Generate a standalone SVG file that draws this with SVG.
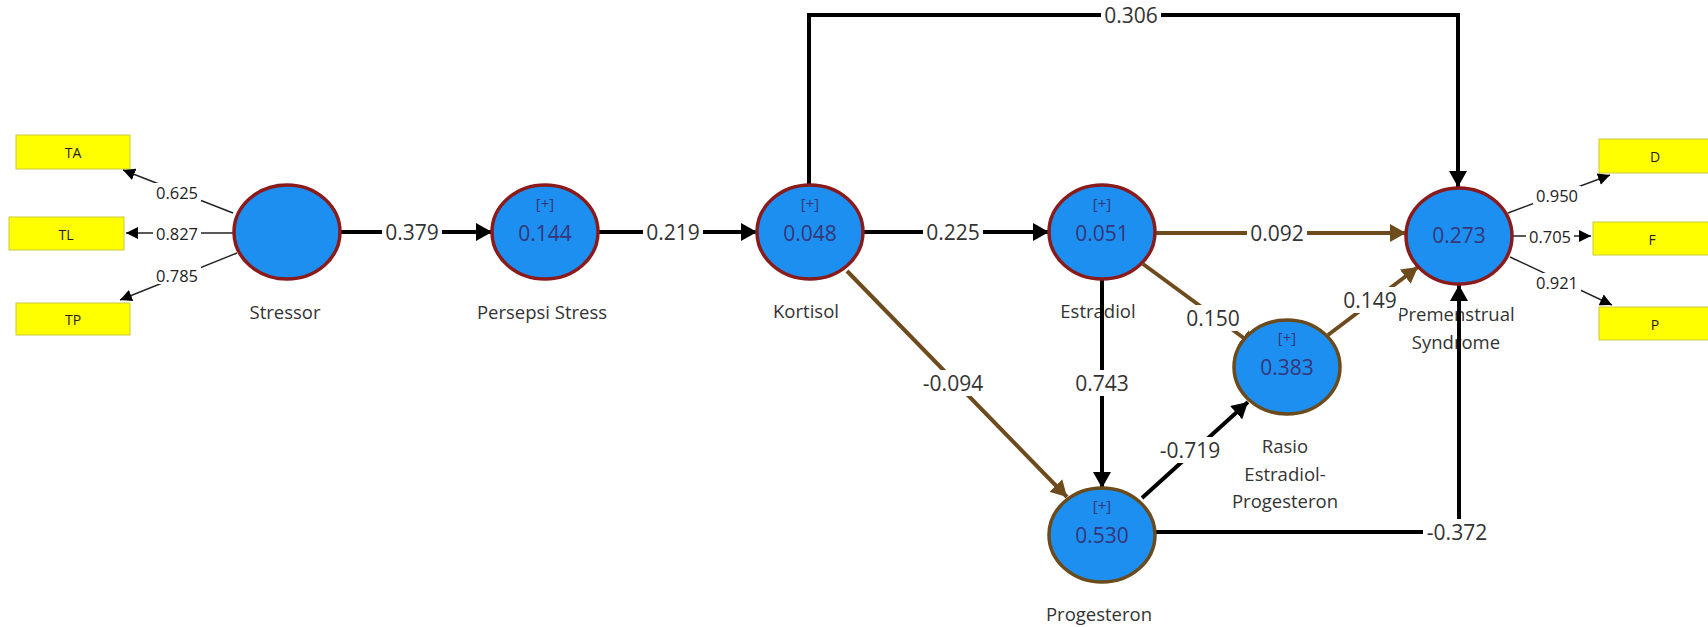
<svg xmlns="http://www.w3.org/2000/svg" width="1708" height="627" viewBox="0 0 1708 627">
  <style>
    text { font-family: "Open Sans", "Noto Sans", "DejaVu Sans", sans-serif; dominant-baseline: central; text-anchor: middle; }
    .lv { fill: #1d8ff0; stroke-width: 3.5; }
    .lv.red { stroke: #8b1a1a; }
    .lv.brown { stroke: #6b4a1c; }
    .name { font-size: 18.5px; fill: #333; }
    .r2 { font-size: 21px; fill: #363678; }
    .plus { font-size: 15px; fill: #363678; }
    .ind rect { fill: #ffff00; stroke: #c9c940; stroke-width: 1; }
    .ind text { font-size: 14px; fill: #222; }
    .path { fill: none; stroke-width: 4; }
    .blk { stroke: #000; }
    .brn { stroke: #6e4b1c; }
    .load { fill: none; stroke: #222; stroke-width: 1.4; }
    .coef { font-size: 21px; fill: #333; }
    .lcoef { font-size: 16.5px; fill: #222; }
    .bg { fill: #fff; }
  </style>
  <defs>
    <marker id="ahBlack" markerUnits="userSpaceOnUse" markerWidth="16" markerHeight="18" refX="16" refY="9" orient="auto">
      <path d="M0,0 L16,9 L0,18 z" fill="#000"/>
    </marker>
    <marker id="ahBrown" markerUnits="userSpaceOnUse" markerWidth="16" markerHeight="18" refX="16" refY="9" orient="auto">
      <path d="M0,0 L16,9 L0,18 z" fill="#6e4b1c"/>
    </marker>
    <marker id="ahSmall" markerUnits="userSpaceOnUse" markerWidth="12" markerHeight="12" refX="12" refY="6" orient="auto">
      <path d="M0,0 L12,6 L0,12 z" fill="#000"/>
    </marker>
  </defs>

  <rect width="1708" height="627" fill="#fff"/>

  <!-- indicator boxes -->
  <g id="ind-TA" class="ind"><rect x="16" y="135" width="114" height="34"/><text x="73" y="152">TA</text></g>
  <g id="ind-TL" class="ind"><rect x="9" y="217" width="115" height="33"/><text x="66" y="234">TL</text></g>
  <g id="ind-TP" class="ind"><rect x="16" y="303" width="114" height="32"/><text x="73" y="319">TP</text></g>
  <g id="ind-D" class="ind"><rect x="1599" y="139" width="115" height="34"/><text x="1655" y="156">D</text></g>
  <g id="ind-F" class="ind"><rect x="1593" y="222" width="121" height="33"/><text x="1652" y="239">F</text></g>
  <g id="ind-P" class="ind"><rect x="1599" y="307" width="115" height="33"/><text x="1655" y="324">P</text></g>

  <!-- node names (drawn under the connectors) -->
  <g id="labels">
    <text class="name" x="285" y="311">Stressor</text>
    <text class="name" x="542" y="311">Persepsi Stress</text>
    <text class="name" x="806" y="310">Kortisol</text>
    <text class="name" x="1098" y="310">Estradiol</text>
    <text class="name" x="1456" y="313">Premenstrual</text>
    <text class="name" x="1456" y="341">Syndrome</text>
    <text class="name" x="1285" y="445">Rasio</text>
    <text class="name" x="1285" y="473">Estradiol-</text>
    <text class="name" x="1285" y="500">Progesteron</text>
    <text class="name" x="1099" y="613">Progesteron</text>
  </g>

  <!-- connectors -->
  <g id="connectors">
    <!-- outer loadings -->
    <line class="load" x1="233" y1="213" x2="123" y2="170" marker-end="url(#ahSmall)"/>
    <line class="load" x1="234" y1="233" x2="126" y2="233" marker-end="url(#ahSmall)"/>
    <line class="load" x1="237" y1="253" x2="120" y2="300" marker-end="url(#ahSmall)"/>
    <line class="load" x1="1508" y1="213" x2="1610" y2="175" marker-end="url(#ahSmall)"/>
    <line class="load" x1="1513" y1="236" x2="1591" y2="236" marker-end="url(#ahSmall)"/>
    <line class="load" x1="1510" y1="257" x2="1612" y2="305" marker-end="url(#ahSmall)"/>

    <!-- structural paths -->
    <line class="path blk" x1="340" y1="232" x2="492" y2="232" marker-end="url(#ahBlack)"/>
    <line class="path blk" x1="598" y1="232" x2="757" y2="232" marker-end="url(#ahBlack)"/>
    <line class="path blk" x1="863" y1="232" x2="1049" y2="232" marker-end="url(#ahBlack)"/>
    <path class="path blk" d="M809,185 V15 H1458 V187" marker-end="url(#ahBlack)"/>
    <line class="path brn" x1="1155" y1="233" x2="1406" y2="233" marker-end="url(#ahBrown)"/>
    <line class="path brn" x1="1143" y1="264" x2="1256" y2="347" marker-end="url(#ahBrown)"/>
    <line class="path blk" x1="1102" y1="279" x2="1102" y2="488" marker-end="url(#ahBlack)"/>
    <line class="path brn" x1="847" y1="271" x2="1067" y2="497" marker-end="url(#ahBrown)"/>
    <line class="path blk" x1="1142" y1="498" x2="1248" y2="402" marker-end="url(#ahBlack)"/>
    <line class="path brn" x1="1328" y1="335" x2="1418" y2="267" marker-end="url(#ahBrown)"/>
    <path class="path blk" d="M1155,532 H1459 V285" marker-end="url(#ahBlack)"/>

    <!-- coefficient labels -->
    <g id="coef-labels">
      <rect class="bg" x="153" y="183" width="48" height="18"/><text class="lcoef" x="177" y="192">0.625</text>
      <rect class="bg" x="153" y="224" width="48" height="18"/><text class="lcoef" x="177" y="233">0.827</text>
      <rect class="bg" x="153" y="266" width="48" height="18"/><text class="lcoef" x="177" y="275">0.785</text>
      <rect class="bg" x="1533" y="186" width="48" height="18"/><text class="lcoef" x="1557" y="195">0.950</text>
      <rect class="bg" x="1526" y="227" width="48" height="18"/><text class="lcoef" x="1550" y="236">0.705</text>
      <rect class="bg" x="1533" y="273" width="48" height="18"/><text class="lcoef" x="1557" y="282">0.921</text>

      <rect class="bg" x="382" y="220" width="60" height="24"/><text class="coef" x="412" y="232">0.379</text>
      <rect class="bg" x="643" y="220" width="60" height="24"/><text class="coef" x="673" y="232">0.219</text>
      <rect class="bg" x="923" y="220" width="60" height="24"/><text class="coef" x="953" y="232">0.225</text>
      <rect class="bg" x="1101" y="3" width="60" height="24"/><text class="coef" x="1131" y="15">0.306</text>
      <rect class="bg" x="1247" y="221" width="60" height="24"/><text class="coef" x="1277" y="233">0.092</text>
      <rect class="bg" x="1183" y="305" width="60" height="26"/><text class="coef" x="1213" y="318">0.150</text>
      <rect class="bg" x="1072" y="370" width="60" height="26"/><text class="coef" x="1102" y="383">0.743</text>
      <rect class="bg" x="919" y="370" width="68" height="26"/><text class="coef" x="953" y="383">-0.094</text>
      <rect class="bg" x="1156" y="437" width="68" height="26"/><text class="coef" x="1190" y="450">-0.719</text>
      <rect class="bg" x="1340" y="287" width="60" height="26"/><text class="coef" x="1370" y="300">0.149</text>
      <rect class="bg" x="1423" y="519" width="68" height="26"/><text class="coef" x="1457" y="532">-0.372</text>
    </g>
  </g>

  <!-- latent variables -->
  <g id="node-stressor">
    <ellipse class="lv red" cx="287" cy="232" rx="53" ry="47"/>
  </g>
  <g id="node-persepsi-stress">
    <ellipse class="lv red" cx="545" cy="232" rx="53" ry="47"/>
    <text class="plus" x="545" y="203">[+]</text>
    <text class="r2" x="545" y="233">0.144</text>
  </g>
  <g id="node-kortisol">
    <ellipse class="lv red" cx="810" cy="232" rx="53" ry="47"/>
    <text class="plus" x="810" y="203">[+]</text>
    <text class="r2" x="810" y="233">0.048</text>
  </g>
  <g id="node-estradiol">
    <ellipse class="lv red" cx="1102" cy="232" rx="53" ry="47"/>
    <text class="plus" x="1102" y="203">[+]</text>
    <text class="r2" x="1102" y="233">0.051</text>
  </g>
  <g id="node-premenstrual-syndrome">
    <ellipse class="lv red" cx="1459" cy="236" rx="53" ry="48"/>
    <text class="r2" x="1459" y="235">0.273</text>
  </g>
  <g id="node-rasio">
    <ellipse class="lv brown" cx="1287" cy="367" rx="53" ry="47"/>
    <text class="plus" x="1287" y="337">[+]</text>
    <text class="r2" x="1287" y="367">0.383</text>
  </g>
  <g id="node-progesteron">
    <ellipse class="lv brown" cx="1102" cy="535" rx="53" ry="47"/>
    <text class="plus" x="1102" y="505">[+]</text>
    <text class="r2" x="1102" y="535">0.530</text>
  </g>
</svg>
